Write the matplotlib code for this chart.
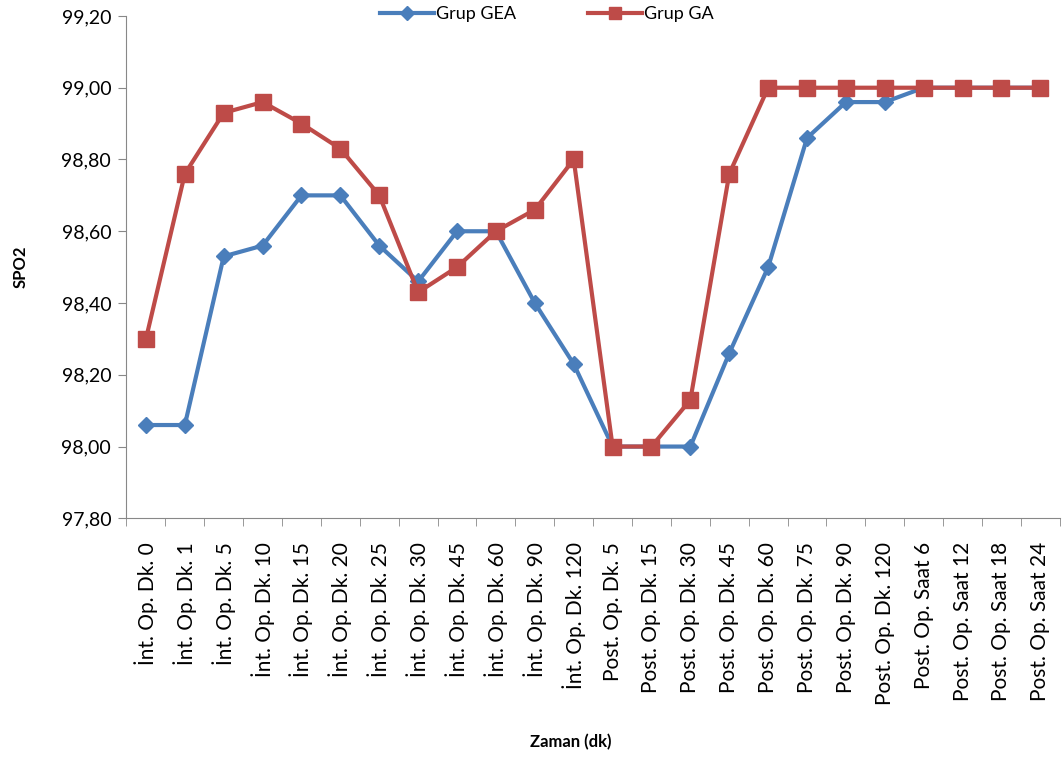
import matplotlib
matplotlib.use("Agg")
import matplotlib.pyplot as plt
from matplotlib.ticker import FixedLocator, FuncFormatter
import numpy as np

plt.rcParams['font.family'] = ['Lato', 'DejaVu Sans']

categories = ['İnt. Op. Dk. 0', 'İnt. Op. Dk. 1', 'İnt. Op. Dk. 5', 'İnt. Op. Dk. 10',
              'İnt. Op. Dk. 15', 'İnt. Op. Dk. 20', 'İnt. Op. Dk. 25', 'İnt. Op. Dk. 30',
              'İnt. Op. Dk. 45', 'İnt. Op. Dk. 60', 'İnt. Op. Dk. 90', 'İnt. Op. Dk. 120',
              'Post. Op. Dk. 5', 'Post. Op. Dk. 15', 'Post. Op. Dk. 30', 'Post. Op. Dk. 45',
              'Post. Op. Dk. 60', 'Post. Op. Dk. 75', 'Post. Op. Dk. 90', 'Post. Op. Dk. 120',
              'Post. Op. Saat 6', 'Post. Op. Saat 12', 'Post. Op. Saat 18', 'Post. Op. Saat 24']

gea = [98.06, 98.06, 98.53, 98.56, 98.70, 98.70, 98.56, 98.46, 98.60, 98.60, 98.40, 98.23,
       98.00, 98.00, 98.00, 98.26, 98.50, 98.86, 98.96, 98.96, 99.00, 99.00, 99.00, 99.00]
ga = [98.30, 98.76, 98.93, 98.96, 98.90, 98.83, 98.70, 98.43, 98.50, 98.60, 98.66, 98.80,
      98.00, 98.00, 98.13, 98.76, 99.00, 99.00, 99.00, 99.00, 99.00, 99.00, 99.00, 99.00]

blue = '#4A7EBB'
red = '#BE4B48'

fig = plt.figure(figsize=(10.63, 7.6), dpi=100)
ax = fig.add_axes([0.119, 0.318, 0.878, 0.661])

x = np.arange(len(categories))
ax.plot(x, gea, color=blue, lw=3, marker='D', ms=8.5, label='Grup GEA')
ax.plot(x, ga, color=red, lw=3, marker='s', ms=11, label='Grup GA')

ax.set_xlim(-0.5, len(categories) - 0.5)
ax.set_ylim(97.8, 99.2)
ax.set_yticks(np.arange(97.8, 99.21, 0.2))
ax.yaxis.set_major_formatter(FuncFormatter(lambda v, p: f'{v:.2f}'.replace('.', ',')))

ax.set_xticks(x)
ax.set_xticklabels(categories, rotation=90, fontsize=15)
ax.tick_params(axis='x', which='major', length=0, pad=17)
ax.xaxis.set_minor_locator(FixedLocator(np.arange(-0.5, len(categories), 1)))
ax.tick_params(axis='x', which='minor', length=6, color='#888888', direction='out')
ax.tick_params(axis='y', length=6, color='#888888', labelsize=14, pad=5)

for s in ['top', 'right']:
    ax.spines[s].set_visible(False)
for s in ['left', 'bottom']:
    ax.spines[s].set_color('#888888')

ax.set_ylabel('SPO2', fontsize=12, fontweight='bold', labelpad=24)
ax.set_xlabel('Zaman (dk)', fontsize=12, fontweight='bold', labelpad=22)
ax.xaxis.set_label_coords(0.476, -0.43)

ax.legend(loc='lower center', bbox_to_anchor=(0.45, 0.955), ncol=2, frameon=False,
          fontsize=13, columnspacing=4, handlelength=3, handletextpad=0.1,
          markerscale=0.8)

fig.savefig('out.png', dpi=100)
